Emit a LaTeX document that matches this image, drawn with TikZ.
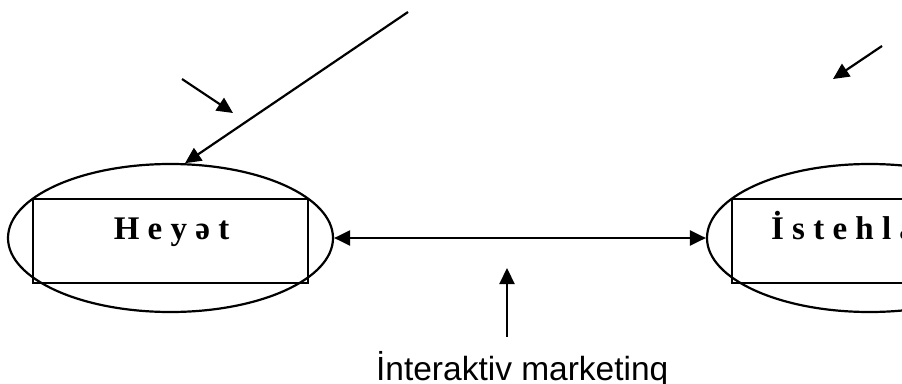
\documentclass[tikz,border=0pt]{standalone}
\usepackage{fontspec}
\setmainfont{Liberation Serif}
\newfontfamily\labelfont{Liberation Sans}
\usetikzlibrary{shapes.geometric, arrows.meta, positioning}

\begin{document}
\begin{tikzpicture}[x=1pt, y=-1pt, line width=2.2pt,
        oval/.style={ellipse, draw, minimum width=325pt, minimum height=148pt, inner sep=0pt},
        box/.style={rectangle, draw, minimum width=275pt, minimum height=84pt, inner sep=0pt},
        word/.style={font=\fontsize{33}{38}\selectfont\bfseries, inner sep=0pt},
        arrow/.style={-{Triangle[length=16pt, width=15pt]}}]
        \useasboundingbox (0,0) rectangle (902,383);

        % left: staff
        \node[oval] (heyetE) at (170.5,238) {};
        \node[box] (heyetB) at (170.5,241) {};
        \node[word, anchor=base] (heyet) at (171.5,239) {H e y ə t};

        % right: consumers (cut off by the page edge)
        \node[oval] (istE) at (869.5,238) {};
        \node[box] (istB) at (869.5,241) {};
        \node[word, anchor=base west] (ist) at (770,239) {İ s t e h l a};

        % bottom label
        \node[font=\labelfont\fontsize{33.5}{40}\selectfont, inner sep=0pt, anchor=base west] (inter) at (375,380) {İnteraktiv marketinq};

        \coordinate (top1) at (408,12);
        \coordinate (in1a) at (182,79);
        \coordinate (in1b) at (233,113);
        \coordinate (in2a) at (882,46);
        \coordinate (in2b) at (833,79);
        \coordinate (up1) at (507,337);
        \coordinate (up2) at (507,268);

        \draw[arrow] (top1) -- (heyetE.79);
        \draw[arrow] (in1a) -- (in1b);
        \draw[arrow] (in2a) -- (in2b);
        \draw[{Triangle[length=16pt, width=15pt]}-{Triangle[length=16pt, width=15pt]}] (heyetE.east) -- (istE.west);
        \draw[arrow] (up1) -- (up2);
\end{tikzpicture}
\end{document}
